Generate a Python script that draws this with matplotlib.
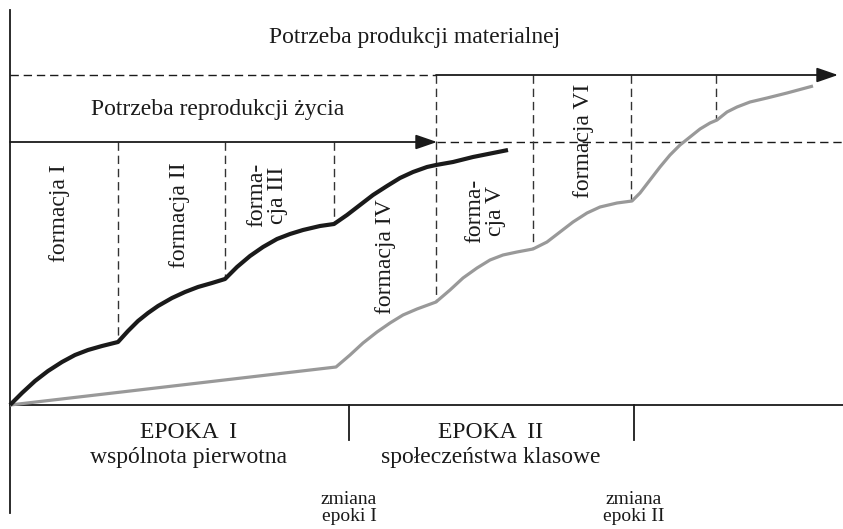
import matplotlib
matplotlib.use("Agg")
import matplotlib.pyplot as plt

# diagram drawn in pixel space of the original figure (y grows downwards)
W, H = 843, 529

# black curve: potrzeba reprodukcji zycia
black_x = [10, 22, 35, 48, 62, 75, 88, 102, 118,
           128, 138, 148, 158, 172, 185, 198, 212, 225,
           237, 250, 263, 277, 290, 303, 320, 334,
           347, 360, 373, 387, 400, 413, 427, 436, 453, 473, 508]
black_y = [405, 393, 381, 371, 362, 355, 350, 346, 342,
           331, 321, 313, 306, 298, 292, 287, 283, 279,
           267, 256, 247, 239, 234, 230, 226, 224,
           215, 205, 195, 186, 178, 172, 167, 165, 162, 157, 150]

# grey curve: potrzeba produkcji materialnej
grey_x = [10, 336, 350, 363, 377, 390, 403, 417, 436,
          450, 463, 477, 490, 503, 517, 533,
          547, 560, 573, 587, 600, 617, 632,
          640, 650, 660, 670, 680, 690, 700, 710, 717,
          727, 737, 750, 767, 787, 813]
grey_y = [405, 367, 355, 343, 332, 323, 315, 309, 302,
          290, 278, 268, 260, 255, 252, 249,
          242, 232, 222, 213, 207, 203, 201,
          193, 180, 167, 155, 145, 137, 129, 123, 120,
          112, 107, 102, 98, 93, 86]

# boundaries between formations (x, top, bottom where they meet a curve)
bound_x = [118, 225, 334, 436, 533, 631, 716]
bound_top = [142, 142, 142, 75, 75, 75, 75]
bound_bot = [342, 279, 224, 302, 249, 201, 120]

formation_labels = ["formacja I", "formacja II", "forma-\ncja III", "formacja IV",
                    "forma-\ncja V", "formacja VI"]
formation_x = [60, 179, 267, 385, 485, 583]
formation_y = [213, 215, 195, 257, 211, 141]

epoch_titles = ["EPOKA  I", "EPOKA  II"]
epoch_names = ["wspólnota pierwotna", "społeczeństwa klasowe"]
epoch_x = [189, 491]
epoch_change_x = [349, 634]
epoch_change_labels = ["zmiana\nepoki I", "zmiana\nepoki II"]

y_base = 405
y_prod = 75
y_repr = 142

fig = plt.figure(figsize=(W / 100, H / 100), dpi=100)
ax = fig.add_axes([0, 0, 1, 1])
ax.set_xlim(0, W)
ax.set_ylim(H, 0)
ax.axis("off")

ink = "#1a1a1a"
dash = (0, (6, 3.5))
serif = ["Liberation Serif", "DejaVu Serif"]
fs = 17

# axes
ax.plot([10, 10], [10, 513], color=ink, lw=1.3)
ax.plot([10, W], [y_base, y_base], color=ink, lw=1.3)
for x in epoch_change_x:
    ax.plot([x, x], [y_base, 440], color=ink, lw=1.3)

# production need line: dashed, then arrow
ax.plot([10, bound_x[3]], [y_prod, y_prod], color=ink, lw=1.0, ls=dash)
ax.annotate("", xy=(838, y_prod), xytext=(bound_x[3], y_prod),
            arrowprops=dict(arrowstyle="-|>,head_length=1.3,head_width=0.45",
                            color=ink, lw=1.3, shrinkA=0, shrinkB=0))
# reproduction need line: arrow, then dashed
ax.annotate("", xy=(437, y_repr), xytext=(10, y_repr),
            arrowprops=dict(arrowstyle="-|>,head_length=1.3,head_width=0.45",
                            color=ink, lw=1.3, shrinkA=0, shrinkB=0))
ax.plot([437, W], [y_repr, y_repr], color=ink, lw=1.0, ls=dash)

# formation boundaries
for x, t, b in zip(bound_x, bound_top, bound_bot):
    ax.plot([x, x], [t, b], color="#333333", lw=1.0, ls=dash)

# curves
ax.plot(grey_x, grey_y, color="#999999", lw=2.3, solid_joinstyle="round",
        solid_capstyle="butt")
ax.plot(black_x, black_y, color=ink, lw=3.0, solid_joinstyle="round",
        solid_capstyle="butt")

# texts
ax.text(415, 38, "Potrzeba produkcji materialnej", fontsize=fs, family=serif,
        ha="center", va="center", color=ink)
ax.text(218, 110, "Potrzeba reprodukcji życia", fontsize=fs, family=serif,
        ha="center", va="center", color=ink)

for lab, x, y in zip(formation_labels, formation_x, formation_y):
    ax.text(x, y, lab, rotation=90, fontsize=fs, family=serif, ha="center",
            va="center", multialignment="center", color=ink, linespacing=0.95)

for t, n, x in zip(epoch_titles, epoch_names, epoch_x):
    ax.text(x, 432, t, fontsize=fs, family=serif, ha="center", va="center",
            color=ink)
    ax.text(x, 458, n, fontsize=fs, family=serif, ha="center", va="center",
            color=ink)

for lab, x in zip(epoch_change_labels, epoch_change_x):
    ax.text(x, 508, lab, fontsize=14, family=serif, ha="center", va="center",
            multialignment="center", color=ink, linespacing=1.05)

fig.savefig("out.png", dpi=100)
